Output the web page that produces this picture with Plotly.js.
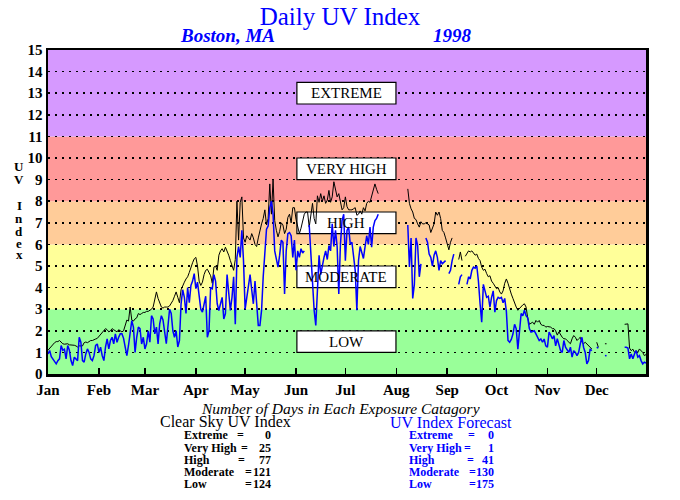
<!DOCTYPE html>
<html>
<head>
<meta charset="utf-8">
<script src="https://cdn.plot.ly/plotly-3.0.1.min.js"></script>
<style>
html,body{margin:0;padding:0;background:#fff;}
#chart{width:680px;height:500px;}
</style>
</head>
<body>
<div id="chart"></div>
<script>
// ---------------- DATA ----------------
const months = ['Jan','Feb','Mar','Apr','May','Jun','Jul','Aug','Sep','Oct','Nov','Dec'];
const monthStartDays = [1,32,60,91,121,152,182,213,244,274,305,335];

const yTicks = [0,1,2,3,4,5,6,7,8,9,10,11,12,13,14,15];

// exposure bands (lower, upper UV index)
const bandNames  = ['LOW','MODERATE','HIGH','VERY HIGH','EXTREME'];
const bandLower  = [0,3,6,8,11];
const bandUpper  = [3,6,8,11,15];
const bandLabelY = [1.5,4.5,7,9.5,13];

// summary counts
const categories     = ['Extreme','Very High','High','Moderate','Low'];
const clearCounts    = [0,25,77,121,124];
const forecastCounts = [0,1,41,130,175];

const N = null;
// daily clear-sky UV index, day 1..365
const clearSky = [
1.10,1.20,1.30,1.35,1.45,1.50,1.50,1.55,1.45,1.40,
1.38,1.38,1.40,1.35,1.35,1.35,1.33,1.30,1.25,1.30,
1.30,1.30,1.45,1.48,1.45,1.50,1.55,1.55,1.60,1.62,
1.65,1.75,1.85,1.90,2.00,2.10,2.05,1.95,2.00,2.10,
2.05,2.00,1.95,2.05,2.00,1.95,2.00,2.30,2.50,2.45,
3.10,2.50,2.45,2.55,2.60,2.80,2.75,2.80,2.85,2.85,
2.90,2.90,2.95,3.00,3.10,3.40,3.80,3.50,3.25,3.10,
3.05,3.10,3.10,3.10,3.15,3.25,3.40,3.60,3.80,3.55,
3.30,3.90,4.10,4.25,4.40,4.50,4.70,4.95,5.15,5.33,
5.40,5.00,4.30,4.10,4.25,4.60,4.80,4.85,4.70,4.55,
4.20,4.95,5.00,4.80,5.50,5.70,5.80,5.65,5.87,5.70,
5.50,5.25,5.00,4.80,5.30,8.00,6.20,7.95,8.20,6.30,
6.10,6.40,6.30,6.20,6.50,6.30,6.00,5.90,6.30,6.70,
6.95,7.20,7.60,6.90,7.20,8.80,7.40,9.00,7.10,6.65,
6.35,6.60,7.00,6.90,6.50,6.70,7.25,7.40,7.00,7.70,
7.70,7.15,6.80,6.50,6.75,7.10,7.40,7.50,7.50,6.80,
7.50,7.90,7.20,6.95,8.25,7.95,8.35,8.00,8.25,7.90,
8.05,8.50,7.95,8.20,8.90,8.50,8.20,8.35,7.90,7.60,
7.70,8.20,7.75,7.60,7.60,7.60,7.65,7.70,7.35,7.40,
7.55,7.40,7.70,7.55,7.90,8.00,7.95,8.25,8.55,8.80,
8.55,8.35,N,N,N,N,N,N,N,N,
N,N,N,N,N,N,N,N,N,8.57,
7.90,7.65,7.50,7.20,7.15,6.95,6.80,7.05,6.95,6.95,
7.00,6.95,6.90,6.55,6.80,6.95,7.50,7.35,7.50,7.20,
6.65,6.55,6.30,6.00,5.75,6.10,6.30,N,N,N,
5.30,5.65,5.25,N,5.45,5.60,5.70,5.65,5.70,5.60,
5.50,5.55,5.35,5.25,4.95,4.80,4.85,4.65,4.50,4.55,
4.30,4.20,4.10,3.95,4.00,3.80,3.70,3.85,4.20,4.40,
4.20,3.90,3.70,3.50,3.25,3.10,2.95,3.05,3.15,3.20,
3.25,3.10,2.60,2.30,2.35,2.40,2.30,2.48,2.40,2.48,
2.30,2.25,2.25,2.17,2.20,2.17,2.17,2.10,2.10,2.00,
1.80,1.95,1.80,1.70,1.63,1.63,1.55,1.47,1.40,1.63,
1.78,1.70,1.55,1.63,1.70,1.47,1.40,1.47,1.40,1.32,
1.24,1.16,N,N,1.47,1.24,N,N,N,1.40,
1.40,N,N,N,N,N,N,N,N,N,
N,2.30,2.30,2.32,1.20,1.08,1.15,1.00,1.08,1.00,
1.16,1.08,1.00,0.85,0.90
];

// daily UV index forecast, day 1..365
const forecast = [
0.93,1.09,0.80,0.70,0.62,0.47,0.62,0.70,1.32,1.10,
1.15,0.70,1.32,1.10,0.62,0.39,0.78,0.70,0.62,1.70,
1.47,0.62,0.55,0.93,1.16,1.00,0.70,0.62,0.85,1.32,
1.39,1.00,1.24,0.85,0.62,1.24,1.63,1.16,1.55,1.70,
1.40,1.86,1.47,1.70,1.86,1.86,1.65,1.24,0.85,1.32,
2.00,2.47,2.17,1.00,1.70,2.17,2.10,1.39,1.70,1.16,
1.40,2.00,1.47,2.70,2.55,1.86,2.17,1.39,2.32,2.70,
2.50,1.86,1.40,2.20,3.00,2.80,2.00,1.70,2.00,1.25,
1.55,3.25,3.90,3.55,2.80,4.00,3.30,4.10,4.30,4.65,
3.95,4.25,3.55,3.00,2.86,3.25,3.60,1.70,2.00,4.00,
3.95,4.60,4.30,3.25,2.94,3.25,3.55,2.55,2.80,4.60,
3.85,2.94,3.55,4.50,2.30,5.40,5.90,5.40,6.65,5.25,
3.00,3.50,4.00,4.60,3.90,3.25,4.30,3.10,2.25,2.25,
2.95,4.50,5.70,6.70,6.85,7.70,8.00,7.40,5.70,5.25,
4.95,5.50,6.20,6.10,3.70,5.70,6.50,6.55,6.40,5.40,
6.20,4.80,5.70,5.40,5.80,5.60,5.70,N,N,6.90,
5.40,4.15,2.95,2.25,4.00,5.50,4.60,5.10,5.40,5.70,
5.30,5.95,5.70,6.95,5.90,6.65,5.90,3.70,6.00,7.10,
7.40,5.25,6.65,6.80,6.00,6.10,5.55,4.80,2.95,5.25,
5.90,5.60,5.35,5.90,6.40,6.00,6.80,5.87,6.80,7.10,
7.20,7.40,N,N,N,N,N,N,N,N,
N,N,N,N,N,N,N,N,N,6.90,
4.95,6.30,3.50,4.15,6.30,5.95,4.50,5.10,N,N,
6.30,6.10,5.55,5.40,5.00,5.50,5.70,5.40,4.80,5.25,
5.10,5.20,5.25,N,4.65,4.80,5.25,5.55,N,N,
4.15,4.50,4.60,N,N,4.15,4.50,4.40,4.80,4.95,
4.90,5.00,4.30,3.25,2.40,4.15,3.90,3.55,3.60,3.10,
3.55,3.85,2.86,3.40,3.55,3.50,3.55,3.30,3.50,2.90,
1.55,1.47,1.60,1.85,2.30,2.10,1.15,2.10,2.80,2.70,
2.95,2.70,2.60,2.10,1.94,1.97,2.00,1.86,1.70,1.55,
1.62,1.47,1.62,1.30,1.24,1.94,1.80,1.63,1.78,1.30,
1.63,1.30,1.08,1.00,1.55,1.24,1.08,1.00,1.24,0.78,
1.08,1.00,0.85,1.00,1.40,1.70,1.24,1.00,0.47,0.62,
1.16,1.08,N,N,1.24,1.20,N,N,N,0.85,
0.85,N,N,N,N,N,N,N,N,N,
N,1.24,1.24,1.20,0.70,0.93,0.70,0.93,1.08,0.78,
0.85,0.62,0.47,0.55,0.50
];

// ---------------- LAYOUT HELPERS ----------------
const days = clearSky.map((v,i)=>i+1);
const PL = 48, PR = 646, PT = 50, PB = 374;           // plot area in page pixels
const px = x => (x - PL) / (PR - PL);                 // page x -> paper x
const py = y => (PB - y) / (PB - PT);                 // page y -> paper y
const SERIF = 'Liberation Serif, Times New Roman, serif';

const bandColors = ['#99FF99','#FFFF99','#FFCC99','#FF9999','#D699FF'];

const shapes = [];
bandNames.forEach((n,i)=>{
  shapes.push({type:'rect', xref:'paper', yref:'y', x0:0, x1:1, y0:bandLower[i], y1:bandUpper[i],
    fillcolor:bandColors[i], line:{width:0}, layer:'below'});
});
const boxX0 = 152.5, boxX1 = 212.8;
bandNames.forEach((n,i)=>{
  shapes.push({type:'rect', xref:'x', yref:'y', x0:boxX0, x1:boxX1,
    y0:bandLabelY[i]-0.5, y1:bandLabelY[i]+0.5,
    fillcolor:'#FFFFFF', line:{color:'#000', width:1.2}, layer:'between'});
});

const annotations = [];
bandNames.forEach((n,i)=>{
  annotations.push({xref:'x', yref:'y', x:(boxX0+boxX1)/2, y:bandLabelY[i], text:n, showarrow:false,
    font:{family:SERIF, size:15, color:'#000'}, xanchor:'center', yanchor:'middle'});
});

// subtitles
annotations.push({xref:'paper', yref:'paper', x:px(178), y:py(35), text:'Boston, MA', showarrow:false,
  xanchor:'left', yanchor:'middle', font:{family:SERIF, size:19, color:'#0000FF', weight:'bold', style:'italic'}});
annotations.push({xref:'paper', yref:'paper', x:px(431), y:py(35), text:'1998', showarrow:false,
  xanchor:'left', yanchor:'middle', font:{family:SERIF, size:19, color:'#0000FF', weight:'bold', style:'italic'}});

// stacked y-axis title
const yLetters = ['U','V','I','n','d','e','x'];
const yLetterPos = [166,179,205,218,231,243,255];
yLetters.forEach((c,i)=>{
  annotations.push({xref:'paper', yref:'paper', x:px(19), y:py(yLetterPos[i]), text:c, showarrow:false,
    xanchor:'center', yanchor:'middle', borderpad:0,
    font:{family:SERIF, size:13, color:'#000', weight:'bold'}});
});

// bottom statistics
annotations.push({xref:'paper', yref:'paper', x:px(340), y:py(408), text:'Number of Days in Each Exposure Catagory',
  showarrow:false, xanchor:'center', yanchor:'middle', font:{family:SERIF, size:15.5, color:'#000', style:'italic'}});
annotations.push({xref:'paper', yref:'paper', x:px(158), y:py(422), text:'Clear Sky UV Index',
  showarrow:false, xanchor:'left', yanchor:'middle', font:{family:SERIF, size:16, color:'#000'}});
annotations.push({xref:'paper', yref:'paper', x:px(388), y:py(422), text:'UV Index Forecast',
  showarrow:false, xanchor:'left', yanchor:'middle', font:{family:SERIF, size:16, color:'#0000FF'}});

const rowY = [435,447.5,459.5,472,484];
const eqLeft  = [240,244,241,248,248];
const eqRight = [471,467,470,472,472];
function statRow(labelX, eqX, numX, label, count, y, color){
  const f = {family:SERIF, size:12, color:color, weight:'bold'};
  annotations.push({xref:'paper', yref:'paper', x:px(labelX), y:py(y), text:label, showarrow:false, xanchor:'left', yanchor:'middle', borderpad:0, font:f});
  annotations.push({xref:'paper', yref:'paper', x:px(eqX), y:py(y), text:'=', showarrow:false, xanchor:'center', yanchor:'middle', borderpad:0, font:f});
  annotations.push({xref:'paper', yref:'paper', x:px(numX), y:py(y), text:String(count), showarrow:false, xanchor:'right', yanchor:'middle', borderpad:0, font:f});
}
categories.forEach((c,i)=>{
  statRow(183, eqLeft[i], 272, c, clearCounts[i], rowY[i], '#000');
  statRow(408, eqRight[i], 495, c, forecastCounts[i], rowY[i], '#0000FF');
});

const traces = [
  {x:days, y:clearSky, type:'scatter', mode:'lines', connectgaps:false, name:'Clear Sky UV Index',
   line:{color:'#000000', width:1}, hoverinfo:'skip'},
  {x:days, y:forecast, type:'scatter', mode:'lines', connectgaps:false, name:'UV Index Forecast',
   line:{color:'#0000FF', width:1.5}, hoverinfo:'skip'}
];

const layout = {
  width:680, height:500,
  margin:{l:PL, r:680-PR, t:PT, b:500-PB, pad:0},
  paper_bgcolor:'#FFFFFF', plot_bgcolor:'#FFFFFF',
  showlegend:false,
  title:{text:'Daily UV Index', font:{family:SERIF, size:25, color:'#0000FF'},
         xref:'container', yref:'container', x:0.5, xanchor:'center', y:1-16/500, yanchor:'middle'},
  xaxis:{range:[1,365], tickmode:'array', tickvals:monthStartDays, ticktext:months,
         ticks:'inside', ticklen:6, tickwidth:1.5, tickcolor:'#000',
         showline:true, linecolor:'#000', linewidth:2.5, mirror:true,
         showgrid:false, zeroline:false,
         tickfont:{family:SERIF, size:15, color:'#000', weight:'bold'}},
  yaxis:{range:[0,15], tickmode:'array', tickvals:yTicks, ticks:'',
         showline:true, linecolor:'#000', linewidth:2.5, mirror:true,
         showgrid:true, gridcolor:'#000', gridwidth:1.5, griddash:'2px,5px',
         zeroline:false,
         tickfont:{family:SERIF, size:15, color:'#000', weight:'bold'}},
  shapes:shapes,
  annotations:annotations
};

Plotly.newPlot('chart', traces, layout, {staticPlot:true, displayModeBar:false});
</script>
</body>
</html>
